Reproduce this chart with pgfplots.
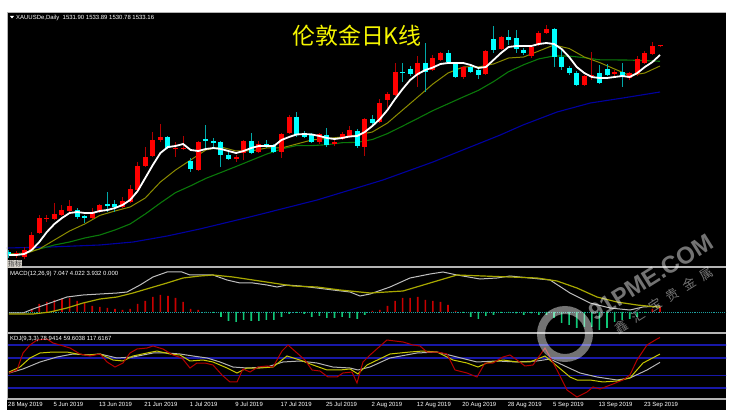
\documentclass[border=0pt]{standalone}
\usepackage{pgfplots}
\pgfplotsset{compat=1.18}
\usepackage{pgfplotstable}
\usepackage{fontspec}
\setmainfont{Liberation Sans}
\newfontfamily\cjk{Noto Sans CJK SC}

\definecolor{bullbody}{HTML}{FF0000}
\definecolor{bullwick}{HTML}{B00000}
\definecolor{bearbody}{HTML}{00FFFF}
\definecolor{bearwick}{HTML}{00A8A8}
\definecolor{maten}{HTML}{8C8C00}
\definecolor{matwenty}{HTML}{0A780A}
\definecolor{masixty}{HTML}{0000A0}
\definecolor{framegray}{HTML}{B4B4B4}
\definecolor{histred}{HTML}{C80000}
\definecolor{histgreen}{HTML}{10C878}
\definecolor{zeroteal}{HTML}{1E9E9E}
\definecolor{macdgray}{HTML}{BEBEBE}
\definecolor{signalyel}{HTML}{A8A800}
\definecolor{kdjred}{HTML}{B40000}
\definecolor{kdjyel}{HTML}{C8C800}
\definecolor{kdjgray}{HTML}{B4B4B4}
\definecolor{levelblue}{HTML}{1818A8}
\definecolor{titleyellow}{HTML}{F5F500}
\definecolor{boxgray}{HTML}{D4D0C8}

% rising candles (red)
\pgfplotstableread{
i o h l c
1 1271.25 1276.25 1267.5 1273.75
2 1268.75 1281.25 1266.25 1277.5
3 1277.5 1300 1276.25 1296.25
4 1298.75 1321.25 1297.5 1317.5
5 1316.9 1321.25 1312.5 1318.1
6 1316.25 1336.25 1315 1322.5
7 1321.25 1333.75 1320 1327.5
8 1326.25 1340 1325 1332.5
11 1317.5 1330 1316.25 1323.75
12 1325 1335 1323.75 1333.75
15 1331.25 1343.75 1330 1338.75
16 1337.5 1358.75 1336.25 1353.75
17 1352.5 1387.5 1351.25 1382.5
18 1382.5 1406.25 1381.25 1393.75
19 1395 1425 1393.75 1415
20 1415 1435 1412.5 1418.75
22 1403.75 1412.5 1393.75 1405
23 1403.75 1420 1402.5 1405
25 1377.5 1413.75 1376.25 1412.5
30 1391.25 1396.25 1387.5 1393.75
31 1398.75 1415 1390 1413.75
33 1400 1413.75 1398.75 1410
36 1400 1423.75 1392.5 1422.5
37 1423.75 1446.25 1422.5 1443.75
41 1412.5 1423.75 1410 1422.5
43 1410 1415 1407.5 1412.5
44 1416.25 1425 1415 1422.5
45 1418.75 1432.5 1417.5 1427.5
47 1406.25 1442.5 1395 1441.25
49 1437.5 1466.25 1436.25 1461.25
50 1465 1475 1452.5 1472.5
51 1471.25 1511.25 1470 1500
54 1496.25 1520 1481.25 1511.25
56 1502.5 1521.25 1501.25 1517.5
57 1515 1525 1513.75 1523.75
60 1493.75 1507.5 1491.25 1506.25
63 1497.5 1527.5 1496.25 1526.25
65 1528.75 1545 1527.5 1543.75
69 1520 1533.75 1517.5 1531.25
70 1535 1551.25 1532.5 1548.75
71 1548.75 1558.75 1547.5 1553.75
76 1483.75 1496.25 1482.5 1495
77 1495 1525 1490 1496.25
80 1497.5 1502.5 1495 1500
82 1492.5 1500 1490 1498.75
83 1497.5 1520 1495 1516.25
84 1511.25 1526.25 1510 1523.75
85 1522.5 1537.5 1521.25 1532.5
86 1531.90 1533.89 1530.78 1533.16
}\upbars

% falling candles (cyan)
\pgfplotstableread{
i o h l c
0 1275 1277.5 1267.5 1271.25
9 1327.5 1330 1316.25 1318.75
10 1320 1321.25 1311.25 1317.5
13 1335 1350 1325 1333.1
14 1335 1340 1325 1331.25
21 1418.75 1420 1403.75 1405
24 1388.75 1392.5 1375 1378.75
26 1416.25 1433.75 1405 1413.75
27 1413.75 1417.5 1406.25 1411.25
28 1412.5 1413.75 1381.25 1396.25
29 1396.25 1400 1390 1391.25
32 1413.75 1423.75 1397.5 1398.75
34 1410 1415 1405 1407.5
35 1408.75 1410 1398.75 1400
38 1443.75 1450 1418.75 1421.25
39 1423.75 1426.25 1417.5 1418.75
40 1421.25 1423.75 1411.25 1412.5
42 1421.25 1430 1406.25 1408.75
46 1426.25 1428.75 1405 1407.5
48 1441.25 1446.25 1433.75 1436.25
52 1500.6 1511.25 1487.5 1499.4
53 1503.75 1507.5 1495 1497.5
55 1511.25 1536.25 1475 1500
58 1523.75 1527.5 1511.25 1512.5
59 1510 1512.5 1492.5 1493.75
61 1506.25 1508.75 1498.75 1500
62 1502.5 1505 1491.25 1496.25
64 1541.25 1557.5 1523.75 1527.5
66 1543.75 1552.5 1533.75 1540
67 1542.5 1552.5 1523.75 1528.75
68 1527.5 1530 1521.25 1523.75
72 1553.75 1555 1506.25 1518.75
73 1518.75 1527.5 1502.5 1506.25
74 1505 1507.5 1496.25 1498.75
75 1498.75 1501.25 1482.5 1483.75
78 1498.75 1508.75 1485 1486.25
79 1503.75 1510 1495 1496.25
81 1500 1511.25 1481.25 1493.75
}\downbars

\pgfplotsset{
  panel/.style={scale only axis, width=719bp, xmin=-0.264, xmax=94.72,
    axis line style={draw=none}, major tick length=0pt,
    xtick=\empty, ytick=\empty, anchor=south west, clip=true},
  wick/.style={draw=none, forget plot, error bars/.cd, y dir=plus, y explicit,
    error mark=none, error bar style={line width=1bp, draw=#1}},
  body/.style={draw=none, forget plot, error bars/.cd, y dir=plus, y explicit,
    error mark=none, error bar style={line width=5bp, draw=#1}},
  level/.style={levelblue, line width=1.2bp, forget plot},
}

\begin{document}
\begin{tikzpicture}
\path[use as bounding box] (0,0) rectangle (738bp,416bp);
\fill[white] (0,0) rectangle (738bp,416bp);
\fill[black] (7bp,6bp) rectangle (726bp,404bp);

% ---------------- main price panel ----------------
\begin{axis}[panel, at={(7bp,149bp)}, height=255bp, ymin=1256.25, ymax=1575]
% MA60 (blue)
\addplot[masixty, line width=1.1bp] coordinates {(-0.3,1280) (5.4,1281.25) (12,1283.75) (16.4,1287.5) (20.9,1295) (25.2,1303.75) (31.8,1318.75) (40.7,1340) (49.4,1365) (56,1387.5) (64.9,1421.25) (67.9,1433.75) (72.4,1450) (76.8,1461.25) (81.1,1467.5) (86,1475)};
% MA20 (green)
\addplot[matwenty, line width=1.1bp] coordinates {(0,1272.5) (2,1273.75) (4,1278.75) (6,1283.75) (8,1287.5) (10,1292.5) (12,1296.25) (14,1302.5) (16,1310) (18,1322.5) (20,1336.25) (22,1349.25) (24,1357.75) (26,1367) (28,1374.4) (30,1381.9) (32,1389.6) (34,1397.25) (36,1403.75) (38,1408.1) (40,1408) (42,1409.1) (44,1411.6) (46,1412.1) (48,1415.6) (50,1423) (52,1432.4) (54,1442) (56,1451.75) (58,1460.25) (60,1468.75) (62,1477) (64,1487.9) (66,1500.4) (68,1509.1) (70,1516.4) (72,1520.1) (74,1519.9) (76,1517.9) (78,1515.25) (80,1515.1) (82,1514.9) (84,1514.2) (86,1513.4)};
% MA10 (olive)
\addplot[maten, line width=1bp] coordinates {(0,1272.5) (2,1272.5) (4,1278.75) (6,1290) (8,1301.25) (10,1310) (12,1320.75) (14,1326.25) (16,1331.25) (18,1342.5) (20,1362.5) (22,1377.5) (24,1390) (26,1402.5) (28,1406.25) (30,1401.25) (32,1401.25) (34,1405) (36,1405) (38,1410) (40,1415) (42,1416.9) (44,1418.75) (46,1421.25) (48,1425) (50,1436.25) (52,1452.5) (54,1468.75) (56,1485) (58,1498.75) (60,1506.25) (62,1506.25) (64,1510) (66,1517.5) (68,1518.75) (70,1526.25) (72,1533.75) (74,1529.4) (76,1518.75) (78,1511.9) (80,1503.75) (82,1495.6) (84,1498.75) (86,1507.5)};
% candles
\addplot[wick=bullwick] table[x=i, y=l, y error expr=\thisrow{h}-\thisrow{l}] {\upbars};
\addplot[wick=bearwick] table[x=i, y=l, y error expr=\thisrow{h}-\thisrow{l}] {\downbars};
\addplot[body=bullbody] table[x=i, y=o, y error expr=\thisrow{c}-\thisrow{o}] {\upbars};
\addplot[body=bearbody] table[x=i, y=c, y error expr=\thisrow{o}-\thisrow{c}] {\downbars};
% MA5 (white)
\addplot[white, line width=1.8bp] coordinates {(0,1271.25) (1,1271.25) (2,1272.5) (3,1277.5) (4,1287.5) (5,1300) (6,1310) (7,1317.5) (8,1323.75) (9,1325) (10,1323.75) (11,1323.75) (12,1326.25) (13,1327.5) (14,1330) (15,1333.75) (16,1340) (17,1351.25) (18,1367.5) (19,1383.75) (20,1398.75) (21,1406.25) (22,1407.5) (23,1410) (24,1402.5) (25,1401.25) (26,1403.75) (27,1405) (28,1403.75) (29,1401.25) (30,1398.75) (31,1401.25) (32,1405) (33,1407.5) (34,1407.5) (35,1407.5) (36,1415) (37,1418.75) (38,1421.9) (39,1422.5) (40,1421.9) (41,1420) (42,1417.5) (43,1416.25) (44,1417.5) (45,1419.4) (46,1420) (47,1425) (48,1432.5) (49,1441.25) (50,1452.5) (51,1466.25) (52,1478.75) (53,1490) (54,1497.5) (55,1502.5) (56,1505.6) (57,1510) (58,1511.25) (59,1511.25) (60,1511.25) (61,1508.75) (62,1505) (63,1506.25) (64,1515) (65,1523.75) (66,1531.25) (67,1532.5) (68,1532.5) (69,1532.5) (70,1535) (71,1536.25) (72,1535) (73,1528.75) (74,1518.75) (75,1506.25) (76,1498.75) (77,1493.75) (78,1492.5) (79,1492.5) (80,1493.75) (81,1495) (82,1493.75) (83,1498.75) (84,1506.25) (85,1512.5) (86,1521.25)};
\end{axis}

% ---------------- MACD panel ----------------
\begin{axis}[panel, at={(7bp,83bp)}, height=65bp, ymin=-21, ymax=44]
\addplot[zeroteal, densely dotted, line width=0.9bp, forget plot] coordinates {(-1,0) (96,0)};
\addplot[ybar, bar width=1.6bp, fill=histred, draw=none] coordinates {(3,3) (4,8) (5,10) (6,12) (7,13) (8,14) (9,11) (10,9) (11,6) (12,5) (13,4) (14,3) (15,2) (16,3) (17,8) (18,11) (19,15) (20,17) (21,16) (22,14) (23,10) (24,3) (25,2) (48,1) (49,2) (50,6) (51,11) (52,14) (53,14) (54,15) (55,12) (56,11) (57,10) (58,7) (59,1) (85,3) (86,5)};
\addplot[ybar, bar width=1.6bp, fill=histgreen, draw=none] coordinates {(26,-0.5) (27,-1) (28,-5) (29,-9) (30,-10) (31,-8) (32,-9) (33,-9) (34,-8) (35,-8) (36,-5) (37,-2) (38,-1) (39,-2) (40,-5) (41,-4) (42,-6) (43,-6) (44,-5) (45,-6) (46,-7) (47,-3) (60,-1) (61,-5) (62,-7) (63,-4) (64,-3) (65,-1) (66,-1) (67,-1.5) (68,-3) (69,-1.5) (70,-3) (71,-3) (72,-6) (73,-11) (74,-13) (75,-16) (76,-15) (77,-15) (78,-18) (79,-16) (80,-10) (81,-8) (82,-7) (83,-5) (84,-1)};
\addplot[macdgray, line width=1bp] coordinates {(0,-1) (1.85,-1) (3.17,3) (5.42,9) (7.66,15) (9.78,17) (12.02,18) (14.27,19) (15.59,20) (17.31,27) (19.02,35) (20.87,40) (22.85,40) (23.91,37) (25.23,37) (26.95,37) (28.8,32) (30.52,29) (32.23,29) (34.08,27) (35.4,25) (36.72,27) (38.44,26) (40.69,24) (42.8,22) (45.05,20) (46.37,16) (47.69,18) (50.33,25) (52.97,34) (55.61,38) (57.33,40) (59.18,37) (62.22,33) (64.46,34) (66.18,36) (68.82,34) (71.47,32) (74.11,19) (76.75,9) (79.39,4) (82.03,2) (83.75,5) (86,6)};
\addplot[signalyel, line width=1.2bp] coordinates {(0,-2) (3.17,-2) (5.42,0) (7.66,4) (9.78,9) (12.02,13) (14.27,15) (16.38,19) (18.63,24) (20.87,29) (22.99,34) (25.23,36) (26.95,37) (29.59,35) (32.23,32) (34.88,29) (37.52,26) (40.69,25) (43.73,22) (46.37,20) (47.69,19) (52.05,21) (55.61,29) (59.18,37) (62.62,36) (66.18,35) (69.75,34) (72.39,31) (75.03,24) (77.68,15) (80.32,10) (82.96,7) (85.6,5) (86,5)};
\end{axis}

% ---------------- KDJ panel ----------------
\begin{axis}[panel, at={(7bp,17bp)}, height=66bp, ymin=-25.58, ymax=127.91,
  xtick={0,6,...,84}, xtick style={draw=none},
  xticklabels={28 May 2019,5 Jun 2019,13 Jun 2019,21 Jun 2019,1 Jul 2019,9 Jul 2019,17 Jul 2019,25 Jul 2019,2 Aug 2019,12 Aug 2019,20 Aug 2019,28 Aug 2019,5 Sep 2019,13 Sep 2019,23 Sep 2019},
  xticklabel style={anchor=north west, inner sep=0pt, text=white, font=\fontsize{6}{7}\selectfont, xshift=-1bp, yshift=-3bp}]
\addplot[level] coordinates {(-1,100) (96,100)};
\addplot[level] coordinates {(-1,70) (96,70)};
\addplot[level] coordinates {(-1,30) (96,30)};
\addplot[level] coordinates {(-1,0) (96,0)};
\addplot[kdjgray, line width=1bp] coordinates {(0,34.9) (1.85,44.2) (4.1,60.5) (6.34,72.1) (8.45,79.1) (10.7,76.7) (12.02,79.1) (14.27,69.8) (16.38,72.1) (19.02,81.4) (20.87,81.4) (22.59,79.1) (24.31,74.4) (26.16,69.8) (27.87,60.5) (29.59,48.8) (31.44,46.5) (34.08,48.8) (36.2,60.5) (38.44,62.8) (40.69,58.1) (42.8,48.8) (45.05,46.5) (46.1,41.9) (47.69,48.8) (50.33,69.8) (53.9,81.4) (56.54,83.7) (59.18,72.1) (61.82,60.5) (64.46,62.8) (67.11,60.5) (69.75,62.8) (71.47,67.4) (73.71,48.8) (75.43,34.9) (77.68,25.6) (80.32,18.6) (82.03,23.3) (84.28,41.9) (86,59.6)};
\addplot[kdjyel, line width=1bp] coordinates {(0,37.2) (1.45,48.8) (2.77,69.8) (4.1,81.4) (5.81,83.7) (7.66,83.7) (8.98,79.1) (10.3,76.7) (12.02,79.1) (13.74,65.1) (15.06,62.8) (16.38,74.4) (18.23,81.4) (19.55,86) (21.27,79.1) (22.59,76.7) (23.91,62.8) (25.63,65.1) (26.95,60.5) (28.8,46.5) (30.12,34.9) (31.44,46.5) (33.16,46.5) (34.88,48.8) (36.72,74.4) (38.44,65.1) (40.16,53.5) (42.01,41.9) (43.73,41.9) (45.05,44.2) (46.1,32.6) (47.29,53.5) (50.33,79.1) (52.97,83.7) (54.69,86) (56.54,83.7) (58.65,65.1) (60.5,58.1) (61.96,48.8) (63.14,58.1) (65.26,65.1) (67.11,60.5) (68.82,60.5) (70.81,74.4) (72.39,51.2) (74.11,25.6) (75.03,18.6) (76.75,18.6) (78.47,14) (80.32,16.3) (82.03,23.3) (83.75,58.1) (86,78.9)};
\addplot[kdjred, line width=1bp] coordinates {(0,34.9) (1.06,41.9) (1.85,81.4) (2.77,100) (3.7,111.6) (5.02,114) (5.81,104.7) (6.74,100) (8.06,93) (9.38,79.1) (10.7,74.4) (12.02,79.1) (12.95,60.5) (14,48.8) (15.06,58.1) (15.98,81.4) (16.91,90.7) (18.23,93) (19.02,97.7) (20.34,90.7) (21.66,76.7) (22.85,69.8) (23.91,46.5) (24.83,58.1) (25.89,58.1) (26.95,53.5) (28.14,30.2) (29.19,14) (30.12,14) (30.91,44.2) (31.84,37.2) (32.89,48.8) (34.08,51.2) (34.88,48.8) (36.06,86) (36.86,100) (38.05,81.4) (39.1,65.1) (40.03,41.9) (41.08,39.5) (42.14,25.6) (43.33,25.6) (44.12,34.9) (45.31,37.2) (45.97,11.6) (46.76,60.5) (47.69,76.7) (49.93,111.6) (52.05,107) (53.37,100) (54.29,97.7) (55.22,83.7) (56.54,83.7) (57.86,79.1) (58.92,41.9) (60.5,34.9) (61.82,25.6) (62.88,58.1) (63.94,58.1) (65.26,72.1) (66.18,76.7) (67.11,65.1) (68.16,51.2) (69.22,53.5) (70.81,93) (72.39,41.9) (73.71,-4.7) (75.03,-20.9) (76.35,-9.3) (77.15,2.3) (78.07,-2.3) (79.79,9.3) (81.11,18.6) (82.03,30.2) (82.96,65.1) (84.28,100) (85.6,114) (86,117.6)};
\end{axis}

% panel frames
\draw[framegray, line width=1.5bp] (7bp,403.5bp) -- (726bp,403.5bp);
\draw[framegray, line width=2bp] (7bp,148.5bp) -- (726bp,148.5bp);
\draw[framegray, line width=2bp] (7bp,82.5bp) -- (726bp,82.5bp);
\draw[framegray, line width=2bp] (7bp,16.5bp) -- (726bp,16.5bp);
\draw[framegray, line width=1bp] (7.5bp,16.5bp) -- (7.5bp,404bp);

% texts
\fill[white] (10bp,400bp) -- (14bp,400bp) -- (12bp,397.5bp) -- cycle;
\node[anchor=west, inner sep=0pt, text=white, font=\fontsize{6}{7}\selectfont] at (16bp,398.5bp) {XAUUSDe,Daily\ \ 1531.90 1533.89 1530.78 1533.16};
\node[anchor=west, inner sep=0pt, text=white, font=\fontsize{6}{7}\selectfont] at (10bp,142bp) {MACD(12,26,9) 7.047 4.022 3.932 0.000};
\node[anchor=west, inner sep=0pt, text=white, font=\fontsize{6}{7}\selectfont] at (10bp,77bp) {KDJ(9,3,3) 78.9414 59.6038 117.6167};
\node[text=titleyellow, inner sep=0pt, font=\cjk\fontsize{23}{23}\selectfont] at (357bp,380bp) {伦敦金日K线};
\node[fill=boxgray, inner sep=0.6bp, anchor=south west, text=black!75, font=\cjk\fontsize{7}{7}\selectfont] at (7bp,148bp) {指标};

% watermark
\begin{scope}[opacity=0.45]
\draw[white, line width=8bp] (565bp,82bp) circle (24bp);
\node[rotate=32, text=white, font=\bfseries\fontsize{24}{24}\selectfont] at (651bp,139bp) {91PME.COM};
\node[rotate=32, text=white, font=\cjk\fontsize{13}{13}\selectfont] at (664bp,116bp) {鑫\hspace{7bp}汇\hspace{7bp}宝\hspace{7bp}贵\hspace{7bp}金\hspace{7bp}属};
\end{scope}
\end{tikzpicture}
\end{document}
